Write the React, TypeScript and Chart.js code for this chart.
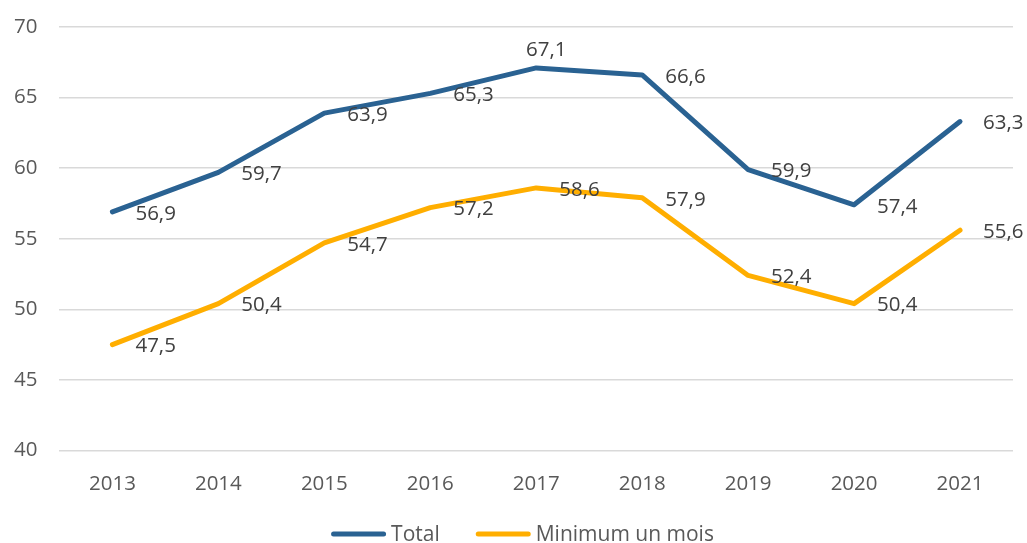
import React, { useEffect, useRef } from "react";
import { Chart, registerables } from "chart.js";

Chart.register(...registerables);

const years = ["2013", "2014", "2015", "2016", "2017", "2018", "2019", "2020", "2021"];
const totalValues = [56.9, 59.7, 63.9, 65.3, 67.1, 66.6, 59.9, 57.4, 63.3];
const minMoisValues = [47.5, 50.4, 54.7, 57.2, 58.6, 57.9, 52.4, 50.4, 55.6];
const seriesNames = ["Total", "Minimum un mois"];

const FONT = "'Open Sans', 'Liberation Sans', sans-serif";
const BLUE = "#2A6292";
const GOLD = "#FFAE00";

// which labels sit above their point instead of to the right
const aboveLabels: Record<number, number[]> = { 0: [4], 1: [] };

const valueLabels = {
  id: "valueLabels",
  afterDatasetsDraw(chart: any) {
    const ctx = chart.ctx;
    ctx.save();
    ctx.font = `20.5px ${FONT}`;
    ctx.fillStyle = "#404040";
    chart.data.datasets.forEach((ds: any, di: number) => {
      const meta = chart.getDatasetMeta(di);
      meta.data.forEach((pt: any, i: number) => {
        const txt = String(ds.data[i]).replace(".", ",");
        ctx.textBaseline = "middle";
        if ((aboveLabels[di] || []).includes(i)) {
          ctx.textAlign = "center";
          ctx.fillText(txt, pt.x + 10, pt.y - 18);
        } else {
          ctx.textAlign = "left";
          ctx.fillText(txt, pt.x + 23, pt.y + 2);
        }
      });
    });
    ctx.restore();
  },
};

const lineLegend = {
  id: "lineLegend",
  afterDraw(chart: any) {
    const ctx = chart.ctx;
    ctx.save();
    ctx.font = `21px ${FONT}`;
    const lineLen = 55;
    const gapText = 5;
    const gapItem = 36;
    const items = chart.data.datasets.map((ds: any) => ({
      text: ds.label,
      color: ds.borderColor,
      w: lineLen + gapText + ctx.measureText(ds.label).width,
    }));
    const total = items.reduce((s: number, it: any) => s + it.w, 0) + gapItem * (items.length - 1);
    let x = chart.width / 2 + 9 - total / 2;
    const y = chart.height - 9;
    items.forEach((it: any) => {
      ctx.strokeStyle = it.color;
      ctx.lineWidth = 5;
      ctx.lineCap = "round";
      ctx.beginPath();
      ctx.moveTo(x + 2.5, y);
      ctx.lineTo(x + lineLen - 2.5, y);
      ctx.stroke();
      ctx.fillStyle = "#595959";
      ctx.textAlign = "left";
      ctx.textBaseline = "middle";
      ctx.fillText(it.text, x + lineLen + gapText, y + 1);
      x += it.w + gapItem;
    });
    ctx.restore();
  },
};

export default function App() {
  const ref = useRef<HTMLCanvasElement>(null);
  useEffect(() => {
    if (!ref.current) return;
    const chart = new Chart(ref.current, {
      type: "line",
      data: {
        labels: years,
        datasets: [
          {
            label: seriesNames[0],
            data: totalValues,
            borderColor: BLUE,
            backgroundColor: BLUE,
            borderWidth: 5,
            pointRadius: 0,
            tension: 0,
            borderCapStyle: "round",
            borderJoinStyle: "round",
          },
          {
            label: seriesNames[1],
            data: minMoisValues,
            borderColor: GOLD,
            backgroundColor: GOLD,
            borderWidth: 5,
            pointRadius: 0,
            tension: 0,
            borderCapStyle: "round",
            borderJoinStyle: "round",
          },
        ],
      },
      options: {
        animation: false,
        responsive: true,
        maintainAspectRatio: false,
        layout: { padding: { top: 27, right: 14, left: -8, bottom: 34 } },
        scales: {
          x: {
            offset: true,
            grid: { display: false },
            border: { display: false },
            ticks: { color: "#595959", font: { family: FONT, size: 20.5 }, padding: 13 },
          },
          y: {
            min: 40,
            max: 70,
            afterFit: (s: any) => {
              s.paddingTop = 0;
              s.paddingBottom = 0;
            },
            ticks: { stepSize: 5, color: "#595959", font: { family: FONT, size: 20.5 }, padding: 22 },
            grid: { color: "#D9D9D9", lineWidth: 1.5, drawTicks: false },
            border: { display: false },
          },
        },
        plugins: {
          tooltip: { enabled: false },
          legend: { display: false },
        },
      },
      plugins: [valueLabels, lineLegend],
    });
    return () => chart.destroy();
  }, []);
  return (
    <div style={{ position: "fixed", left: 0, top: 0, width: 1027, height: 543, background: "#fff" }}>
      <canvas ref={ref} />
    </div>
  );
}
